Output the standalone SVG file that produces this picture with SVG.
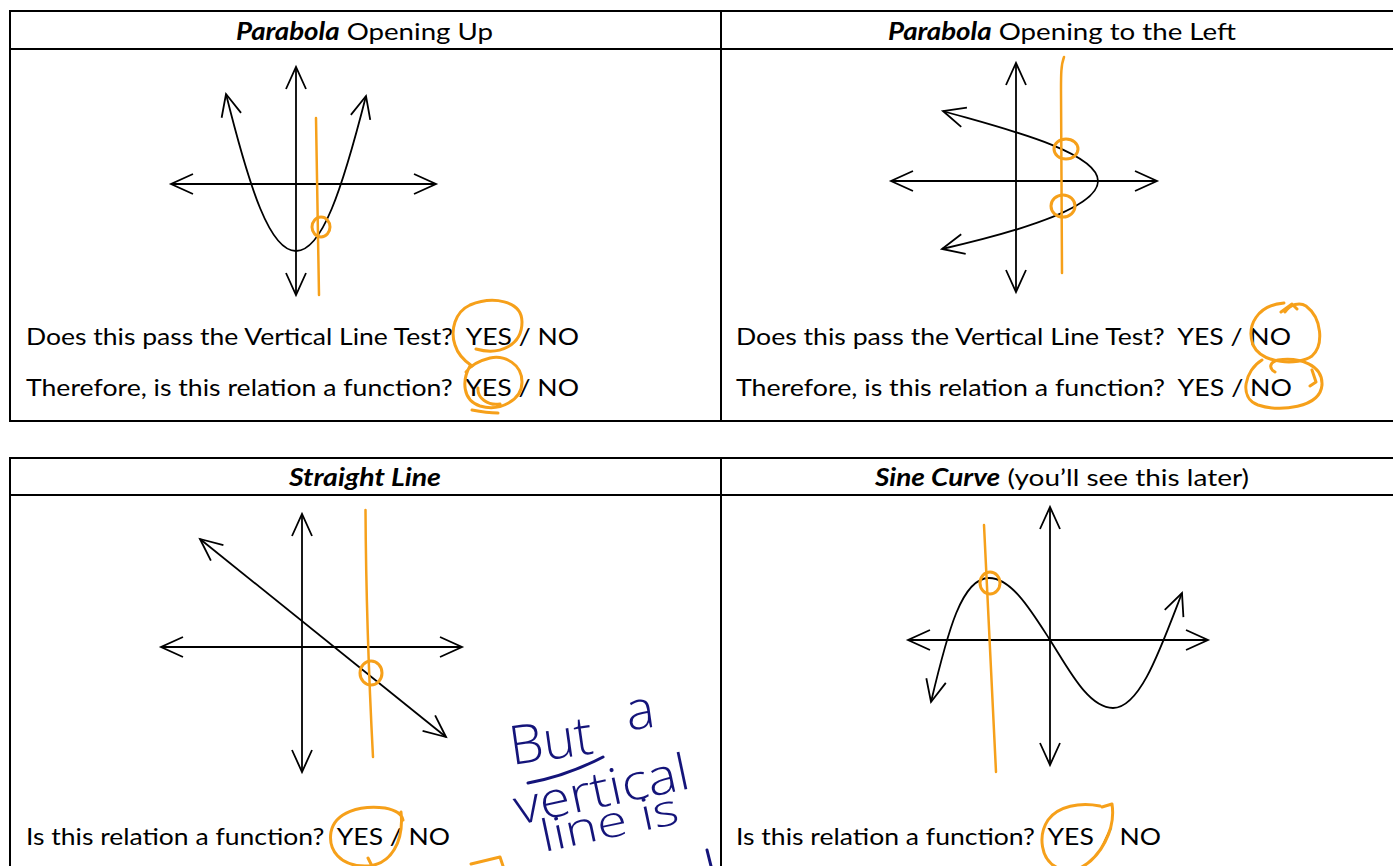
<svg xmlns="http://www.w3.org/2000/svg" width="1393" height="866" viewBox="0 0 1393 866">
<style>
.grid{stroke:#000;stroke-width:2;fill:none}
.ax{stroke:#000;stroke-width:1.8;fill:none;marker-start:url(#ah);marker-end:url(#ah)}
.cv{stroke:#000;stroke-width:1.8;fill:none;marker-start:url(#ah);marker-end:url(#ah)}
.or{stroke:#F6A01A;stroke-width:3;fill:none;stroke-linecap:round;stroke-linejoin:round}
.orl{stroke:#F6A01A;stroke-width:2.5;fill:none;stroke-linecap:round}
.txt{font-family:Lato,"Open Sans","Liberation Sans",sans-serif;font-size:24px;fill:#000}
.bi{font-weight:bold;font-style:italic}
.hw{font-family:"Open Sans",Lato,sans-serif;font-weight:300;fill:#14147A}
.nv{stroke:#14147A;stroke-width:3;fill:none;stroke-linecap:round}
</style>
<defs>
<marker id="ah" viewBox="-2 -2 26 24" refX="22" refY="10" markerWidth="26" markerHeight="24" markerUnits="userSpaceOnUse" orient="auto-start-reverse" style="overflow:visible">
<path d="M0,0 L22,10 L0,20" fill="none" stroke="#000" stroke-width="1.8"/>
</marker>
</defs>
<rect width="1393" height="866" fill="#fff"/>
<g id="tables" class="grid">
<path d="M9,11 H1400 M9,49 H1400 M9,421 H1400 M10,10 V422 M721,10 V422"/>
<path d="M9,458 H1400 M9,495 H1400 M10,457 V870 M721,457 V870"/>
</g>
<g id="panel1">
<text class="txt" x="236" y="40" textLength="257" lengthAdjust="spacingAndGlyphs"><tspan class="bi">Parabola</tspan> Opening Up</text>
<path class="ax" d="M296,67 V295"/>
<path class="ax" d="M171,184 H436"/>
<path class="cv" d="M226,94 C250,190 270,251 296,251 C322,251 342,190 366,96"/>
<path class="orl" d="M316,118 C317,180 318,240 319,295"/>
<ellipse class="or" cx="321" cy="227" rx="9" ry="10"/>
<text class="txt" xml:space="preserve" x="26" y="345" textLength="553" lengthAdjust="spacingAndGlyphs">Does this pass the Vertical Line Test?  YES / NO</text>
<text class="txt" xml:space="preserve" x="26" y="396" textLength="553" lengthAdjust="spacingAndGlyphs">Therefore, is this relation a function?  YES / NO</text>
<path class="or" d="M476,349 C500,356 522,345 522,322 C522,300 492,296 470,305 C455,312 450,330 455,345 C458,355 466,362 472,366"/>
<path class="or" d="M470,366 C462,380 462,400 480,406 C500,412 522,400 522,382 C522,364 505,355 490,358 C478,361 470,366 466,372 M478,388 C477,398 488,406 500,404 M472,410 C482,412 490,413 498,413"/>
</g>
<g id="panel2">
<text class="txt" x="888" y="40" textLength="348" lengthAdjust="spacingAndGlyphs"><tspan class="bi">Parabola</tspan> Opening to the Left</text>
<path class="ax" d="M1016,63 V292"/>
<path class="ax" d="M891,181 H1157"/>
<path class="cv" d="M943,111 C990,125 1098,150 1098,181 C1098,212 990,238 942,249"/>
<path class="orl" d="M1064,57 C1061,65 1061,75 1061,90 L1062,273"/>
<ellipse class="or" cx="1066" cy="149" rx="12" ry="10"/>
<ellipse class="or" cx="1063" cy="206" rx="12" ry="11"/>
<text class="txt" xml:space="preserve" x="736" y="345" textLength="555" lengthAdjust="spacingAndGlyphs">Does this pass the Vertical Line Test?  YES / NO</text>
<text class="txt" xml:space="preserve" x="736" y="396" textLength="556" lengthAdjust="spacingAndGlyphs">Therefore, is this relation a function?  YES / NO</text>
<path class="or" d="M1284,303 C1258,305 1246,325 1253,345 C1262,364 1298,366 1312,356 C1324,345 1322,318 1306,306 C1300,302 1290,304 1285,312 M1281,312 L1292,304 L1297,309"/>
<path class="or" d="M1262,360 C1245,370 1238,398 1258,405 C1280,412 1320,408 1322,385 C1323,365 1300,357 1278,360 C1270,362 1268,368 1275,372 M1312,370 L1316,382 L1310,386"/>
</g>
<g id="panel3">
<text class="txt bi" x="289" y="486" textLength="152" lengthAdjust="spacingAndGlyphs">Straight Line</text>
<path class="ax" d="M302,514 V772"/>
<path class="ax" d="M161,647 H462"/>
<path class="cv" d="M200,539 L446,737"/>
<path class="orl" d="M365.5,510 C366,600 370,700 373,757"/>
<ellipse class="or" cx="371" cy="673" rx="11" ry="12"/>
<text class="txt" xml:space="preserve" x="26" y="845" textLength="424" lengthAdjust="spacingAndGlyphs">Is this relation a function?  YES / NO</text>
<path class="or" d="M401,812 C404,840 392,866 365,866 C340,866 328,850 331,832 C335,812 360,805 385,808 C395,810 402,814 403,820 M368,858 L372,866"/>
<path class="or" d="M471,864 L500,857 L503,866"/>
</g>
<g id="panel4">
<text class="txt" x="875" y="486" textLength="374" lengthAdjust="spacingAndGlyphs"><tspan class="bi">Sine Curve</tspan> (you’ll see this later)</text>
<path class="ax" d="M1050,507 V765"/>
<path class="ax" d="M908,640 H1208"/>
<path class="cv" d="M931,702 C948,630 962,578 989,578 C1012,578 1032,612 1050,640 C1068,668 1088,708 1113,708 C1140,708 1160,650 1182,593"/>
<path class="orl" d="M984,525 L996,772"/>
<ellipse class="or" cx="990" cy="583" rx="10" ry="11"/>
<text class="txt" xml:space="preserve" x="736" y="845" textLength="425" lengthAdjust="spacingAndGlyphs">Is this relation a function?  YES / NO</text>
<path class="or" d="M1102,807 L1112,804 C1116,830 1100,858 1080,868 M1058,868 C1040,860 1038,835 1048,820 C1058,806 1080,802 1100,806"/>
</g>
<g id="note">
<text class="hw" font-size="54" transform="rotate(-8 512 765)"><tspan x="512" y="765">But </tspan><tspan x="632" y="747">a</tspan></text>
<path class="nv" d="M528,783 C555,778 580,769 603,757"/>
<text class="hw" font-size="50" transform="translate(518,825) rotate(-12)" textLength="178" lengthAdjust="spacingAndGlyphs">vertical</text>
<text class="hw" font-size="44" transform="translate(544,852) rotate(-12)" textLength="140" lengthAdjust="spacingAndGlyphs">line is</text>
<path class="nv" d="M707,850 L711,866"/>
</g>
</svg>
